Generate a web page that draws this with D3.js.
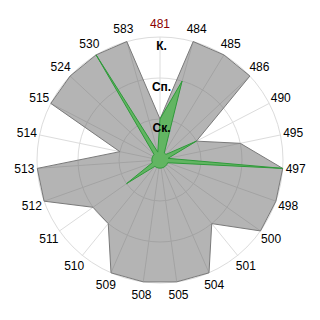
<!DOCTYPE html>
<html>
<head>
<meta charset="utf-8">
<script src="https://cdn.jsdelivr.net/npm/d3@7"></script>
<style>
  html, body { margin: 0; padding: 0; background: #fff; }
  svg { display: block; }
</style>
</head>
<body>
<div id="chart"></div>
<script>
const categories = ['481', '484', '485', '486', '490', '495', '497', '498', '500', '501', '504',
  '505', '508', '509', '510', '511', '512', '513', '514', '515', '524', '530', '583'];
const greyValues = [1, 3, 3, 3, 1, 2, 3, 3, 3, 2, 3, 3, 3, 3, 2, 2, 3, 3, 1, 3, 3, 3, 3];
const greenValues = [1, 2, 0.2, 0.2, 1, 0.2, 3, 0.2, 0.2, 0.2, 0.2, 0.2, 0.2, 0.2, 0.2, 1, 0.2, 0.2, 0.2, 0.2, 0.2, 3, 0.2];
const levels = [1, 2, 3];
const levelLabels = ['Ск.', 'Сп.', 'К.'];
const highlighted = '481';

const width = 320, height = 320;
const cx = 160, cy = 160, radius = 123;

const svg = d3.select('#chart')
  .append('svg')
  .attr('width', width)
  .attr('height', height)
  .append('g')
  .attr('transform', `translate(${cx},${cy})`);

const r = d3.scaleLinear().domain([0, 3]).range([0, radius]);
const angle = d3.scaleLinear().domain([0, categories.length]).range([0, 2 * Math.PI]);

// grid
svg.append('g')
  .selectAll('circle')
  .data(levels)
  .enter()
  .append('circle')
  .attr('r', d => r(d))
  .attr('fill', 'none')
  .attr('stroke', '#dcdcdc')
  .attr('stroke-width', 1);

svg.append('g')
  .selectAll('line')
  .data(categories)
  .enter()
  .append('line')
  .attr('x1', 0)
  .attr('y1', 0)
  .attr('x2', (d, i) => r(3) * Math.sin(angle(i)))
  .attr('y2', (d, i) => -r(3) * Math.cos(angle(i)))
  .attr('stroke', '#dcdcdc')
  .attr('stroke-width', 1);

const line = d3.lineRadial()
  .angle((d, i) => angle(i))
  .radius(d => r(d))
  .curve(d3.curveLinearClosed);

// grey series
svg.append('path')
  .datum(greyValues)
  .attr('fill', 'rgb(105,105,105)')
  .attr('fill-opacity', 0.5)
  .attr('stroke', '#7a7a7a')
  .attr('stroke-width', 1)
  .attr('d', line);

// green series
svg.append('path')
  .datum(greenValues)
  .attr('fill', '#62b562')
  .attr('stroke', '#2f9a3a')
  .attr('stroke-width', 1)
  .attr('stroke-linejoin', 'round')
  .attr('d', line);

// level labels
svg.append('g')
  .selectAll('text')
  .data(levels)
  .enter()
  .append('text')
  .attr('x', 1.5)
  .attr('y', d => -r(d) + 13)
  .attr('text-anchor', 'middle')
  .attr('font-family', 'Liberation Sans, Arial, sans-serif')
  .attr('font-size', '12px')
  .attr('font-weight', 'bold')
  .attr('fill', '#000')
  .text((d, i) => levelLabels[i]);

// category labels
svg.append('g')
  .selectAll('text')
  .data(categories)
  .enter()
  .append('text')
  .attr('x', (d, i) => (radius + 13) * Math.sin(angle(i)))
  .attr('y', (d, i) => -(radius + 13) * Math.cos(angle(i)))
  .attr('dy', '0.35em')
  .attr('text-anchor', 'middle')
  .attr('font-family', 'Liberation Sans, Arial, sans-serif')
  .attr('font-size', '12px')
  .attr('fill', d => d === highlighted ? '#8b0000' : '#000')
  .text(d => d);
</script>
</body>
</html>
